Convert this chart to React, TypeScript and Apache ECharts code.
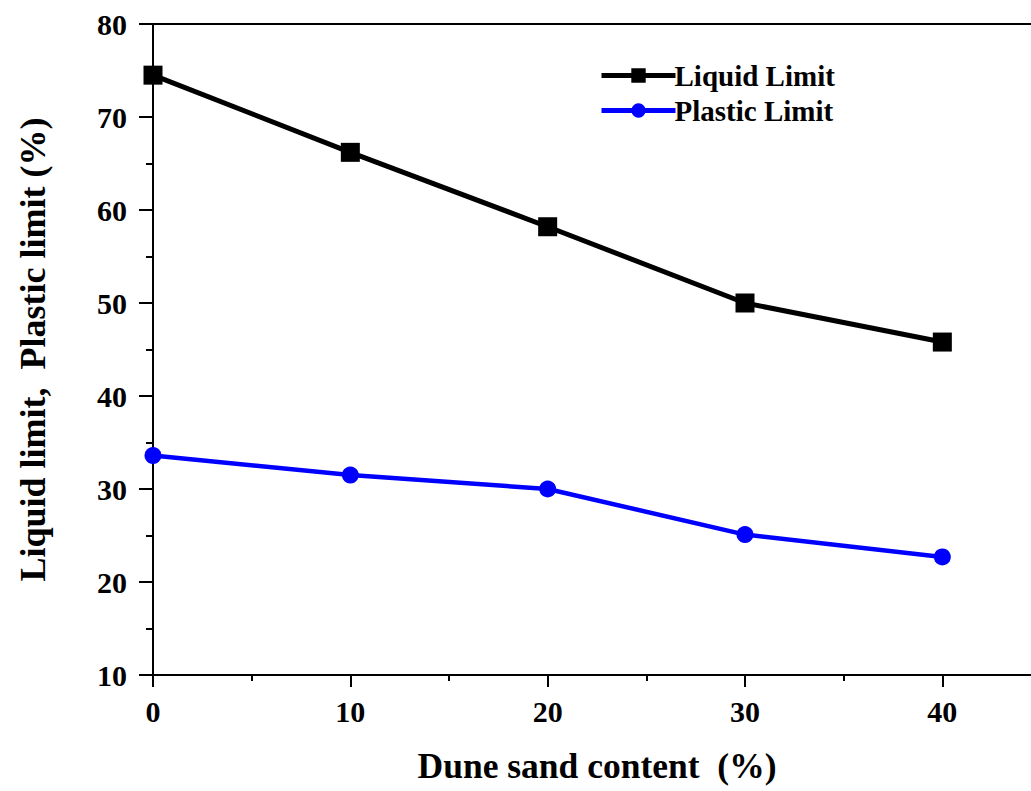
import React, { useEffect, useRef } from "react";
import * as echarts from "echarts";

const sandContent = [0, 10, 20, 30, 40];
const liquidLimit = [74.5, 66.2, 58.2, 50.0, 45.8];
const plasticLimit = [33.6, 31.5, 30.0, 25.1, 22.7];

const FONT = "'Liberation Serif', 'Times New Roman', serif";

export default function App() {
  const ref = useRef<HTMLDivElement>(null);
  useEffect(() => {
    if (!ref.current) return;
    const chart = echarts.init(ref.current, null, { renderer: "svg" });
    chart.setOption({
      animation: false,
      backgroundColor: "#ffffff",
      grid: { left: 153, top: 24, bottom: 116, right: 0 },
      legend: {
        orient: "vertical",
        left: 594,
        top: 56,
        itemWidth: 74,
        itemHeight: 18,
        itemGap: 6,
        lineStyle: { width: 5 },
        textStyle: { fontFamily: FONT, fontWeight: "bold", fontSize: 29, color: "#000", padding: [0, 0, 0, -6] },
        data: ["Liquid Limit", "Plastic Limit"],
      },
      xAxis: [
        {
          type: "value",
          min: 0,
          max: 45,
          interval: 10,
          name: "Dune sand content  (%)",
          nameLocation: "middle",
          nameGap: 73,
          nameTextStyle: { fontFamily: FONT, fontWeight: "bold", fontSize: 35.5, color: "#000" },
          axisLine: { onZero: false, lineStyle: { color: "#000", width: 2 } },
          axisTick: { inside: false, length: 12, lineStyle: { color: "#000", width: 2 } },
          minorTick: { show: true, splitNumber: 2, length: 6, lineStyle: { color: "#000", width: 2 } },
          axisLabel: { margin: 21, fontFamily: FONT, fontWeight: "bold", fontSize: 30, color: "#000", showMaxLabel: false },
          splitLine: { show: false },
        },
        {
          type: "value",
          position: "top",
          min: 0,
          max: 45,
          axisLine: { show: true, lineStyle: { color: "#000", width: 2 } },
          axisTick: { show: false },
          axisLabel: { show: false },
          splitLine: { show: false },
        },
      ],
      yAxis: {
        type: "value",
        min: 10,
        max: 80,
        interval: 10,
        name: "Liquid limit,  Plastic limit (%)",
        nameLocation: "middle",
        nameGap: 102,
        nameTextStyle: { fontFamily: FONT, fontWeight: "bold", fontSize: 36, color: "#000" },
        axisLine: { show: true, onZero: false, lineStyle: { color: "#000", width: 2 } },
        axisTick: { inside: false, length: 14, lineStyle: { color: "#000", width: 2 } },
        minorTick: { show: true, splitNumber: 2, length: 7, lineStyle: { color: "#000", width: 2 } },
        axisLabel: { margin: 26, fontFamily: FONT, fontWeight: "bold", fontSize: 30, color: "#000" },
        splitLine: { show: false },
      },
      series: [
        {
          name: "Liquid Limit",
          type: "line",
          data: sandContent.map((x, i) => [x, liquidLimit[i]]),
          symbol: "rect",
          symbolSize: 19,
          itemStyle: { color: "#000" },
          lineStyle: { color: "#000", width: 5 },
        },
        {
          name: "Plastic Limit",
          type: "line",
          data: sandContent.map((x, i) => [x, plasticLimit[i]]),
          symbol: "circle",
          symbolSize: 17,
          itemStyle: { color: "#0000ff" },
          lineStyle: { color: "#0000ff", width: 4.5 },
        },
      ],
    });
    return () => chart.dispose();
  }, []);
  return (
    <div style={{ position: "absolute", left: 0, top: 0, width: 1031, height: 791, overflow: "hidden" }}>
      <div ref={ref} style={{ width: 1041, height: 791 }} />
    </div>
  );
}
